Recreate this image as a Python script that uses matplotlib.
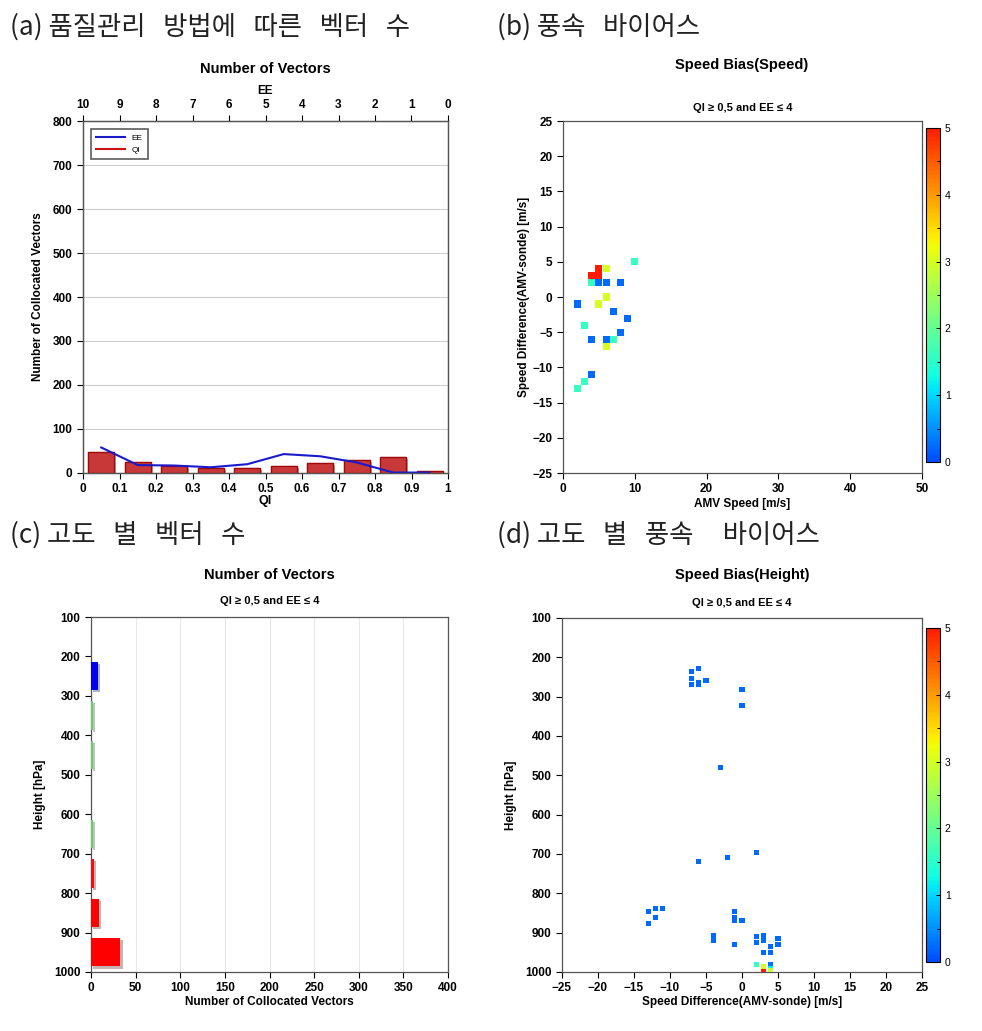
import matplotlib
matplotlib.use("Agg")
import matplotlib.pyplot as plt
import matplotlib.patheffects as pe
from matplotlib.colors import LinearSegmentedColormap, Normalize
from matplotlib.colorbar import ColorbarBase
import numpy as np

plt.rcParams['font.family'] = ['Liberation Sans', 'DejaVu Sans']

# ---- data ----
# (a) number of vectors by QI / EE
qi_centers = [0.05, 0.15, 0.25, 0.35, 0.45, 0.55, 0.65, 0.75, 0.85, 0.95]
qi_counts = [47, 25, 17, 12, 11, 17, 23, 30, 36, 4]
ee_counts = [58, 18, 17, 13, 20, 43, 38, 24, 1, 1]

# (b) speed bias vs AMV speed
b_speed = [10, 5, 6, 4, 5, 4, 5, 6, 8, 6, 2, 5, 7, 9, 3, 8, 4, 6, 7, 6, 4, 3, 2]
b_diff = [5, 4, 4, 3, 3, 2, 2, 2, 2, 0, -1, -1, -2, -3, -4, -5, -6, -6, -6, -7, -11, -12, -13]
b_value = [1.6, 5, 3, 5, 5, 1.6, 0.2, 0.2, 0.2, 3, 0.2, 3, 0.2, 0.2, 1.6, 0.2, 0.2, 0.2,
           1.6, 3, 0.2, 1.6, 1.6]

# (c) number of vectors by height bin
height_mid = [150, 250, 350, 450, 550, 650, 750, 850, 950]
height_counts = [0, 8, 2, 2, 0, 2, 3, 9, 33]
height_colors = ['#0000ee', '#0000ee', '#66cc66', '#66cc66', '#66cc66', '#66cc66',
                 '#ee1111', '#ff0000', '#ff0000']

# (d) speed bias vs height
d_diff = [-6, -7, -7, -5, -7, -6, -6, 0, 0, -3, -6, -2, 2, -13, -12, -11, -12, -13,
          -1, -1, -1, 0, -4, -4, -1, 2, 3, 3, 2, 5, 5, 4, 3, 4, 2, 3, 3, 3, 4, 4, 4]
d_height = [228, 237, 253, 260, 270, 265, 270, 283, 322, 480, 718, 708, 697, 845, 838,
            838, 862, 876, 845, 862, 870, 870, 906, 921, 930, 910, 906, 921, 926, 916,
            930, 936, 951, 951, 982, 985, 992, 998, 982, 990, 997]
d_value = [0.2] * 34 + [1.5, 3, 3, 5, 0.3, 1.2, 2.8]

W, H = 982, 1031
fig = plt.figure(figsize=(W / 100, H / 100), dpi=100)


def rect(l, t, r, b):
    return [l / W, 1 - b / H, (r - l) / W, (b - t) / H]


def fig_text(x, y, s, **kw):
    fig.text(x / W, 1 - y / H, s, **kw)


jet = plt.get_cmap('jet')
cmap = LinearSegmentedColormap.from_list('jet_cut', jet(np.linspace(0.2, 0.88, 256)))
norm = Normalize(0, 5)

tick_kw = dict(labelsize=8.5, colors='black', length=4, width=0.8)
spine_col = '#555555'
kfont = dict(family=['Noto Sans CJK KR', 'DejaVu Sans'], fontsize=19, color='#222222')


def style_axes(ax):
    for s in ax.spines.values():
        s.set_color(spine_col)
        s.set_linewidth(0.9)
    ax.tick_params(axis='both', **tick_kw)
    for lab in ax.get_xticklabels() + ax.get_yticklabels():
        lab.set_fontweight('bold')


def add_cbar(l, t, r, b):
    cax = fig.add_axes(rect(l, t, r, b))
    cb = ColorbarBase(cax, cmap=cmap, norm=norm, ticks=range(6))
    cb.outline.set_linewidth(0.8)
    cax.yaxis.set_minor_locator(plt.MultipleLocator(0.5))
    cax.tick_params(labelsize=7.5, length=3, width=0.7, direction='in')
    cax.tick_params(which='minor', length=2, width=0.7, direction='in')
    return cb


# ---- headings ----
fig_text(10, 27, '(a) 품질관리   방법에   따른   벡터   수', va='center', **kfont)
fig_text(497, 27, '(b) 풍속   바이어스', va='center', **kfont)
fig_text(10, 535, '(c) 고도   별   벡터   수', va='center', **kfont)
fig_text(497, 535, '(d) 고도   별   풍속     바이어스', va='center', **kfont)

# ---- (a) ----
ax = fig.add_axes(rect(83, 121, 448, 473))
bars = ax.bar(qi_centers, qi_counts, width=0.07, color='#c83838', edgecolor='#a00808',
              linewidth=0.9, zorder=3)
for b in bars:
    b.set_path_effects([pe.withSimplePatchShadow(offset=(1.5, -1.5), alpha=0.35), pe.Normal()])
ax.plot(qi_centers, ee_counts, color='#1a1acc', lw=1.5, zorder=4, label='EE')
ax.plot([], [], color='#cc1111', lw=1.5, label='QI')
ax.set_xlim(0, 1)
ax.set_ylim(0, 800)
ax.set_xticks(np.arange(0, 1.01, 0.1))
ax.set_xticklabels(['0', '0.1', '0.2', '0.3', '0.4', '0.5', '0.6', '0.7', '0.8', '0.9', '1'])
ax.set_yticks(range(0, 801, 100))
ax.grid(axis='y', color='#cccccc', lw=0.8, zorder=0)
ax.set_xlabel('QI', fontsize=9, fontweight='bold', labelpad=0)
ax.set_ylabel('Number of Collocated Vectors', fontsize=8.5, fontweight='bold', labelpad=6)
leg = ax.legend(loc='upper left', fontsize=6, frameon=True, fancybox=False,
                handlelength=3.5, borderpad=0.6, bbox_to_anchor=(0.01, 0.99))
leg.get_frame().set_edgecolor('#333333')
leg.get_frame().set_linewidth(1.2)
style_axes(ax)
ax2 = ax.twiny()
ax2.set_xlim(10, 0)
ax2.set_xticks(range(10, -1, -1))
ax2.set_xlabel('EE', fontsize=8.5, fontweight='bold', labelpad=3)
style_axes(ax2)
ax2.set_title('Number of Vectors', fontsize=10.5, fontweight='bold', pad=9)

# ---- (b) ----
ax = fig.add_axes(rect(563, 121, 922, 473))
ax.scatter(b_speed, b_diff, c=b_value, cmap=cmap, norm=norm, marker='s', s=26,
           linewidths=0, zorder=3)
ax.set_xlim(0, 50)
ax.set_ylim(-25, 25)
ax.set_xticks(range(0, 51, 10))
ax.set_yticks(range(-25, 26, 5))
ax.set_xlabel('AMV Speed [m/s]', fontsize=8.5, fontweight='bold', labelpad=2)
ax.set_ylabel('Speed Difference(AMV-sonde) [m/s]', fontsize=8.5, fontweight='bold',
              labelpad=2)
style_axes(ax)
ax.set_title('QI ≥ 0,5 and EE ≤ 4', fontsize=8, fontweight='bold', pad=7)
fig_text(742, 65, 'Speed Bias(Speed)', ha='center', va='center', fontsize=10.5,
         fontweight='bold')
add_cbar(926, 128, 940, 462)

# ---- (c) ----
ax = fig.add_axes(rect(91, 617, 448, 972))
bars = ax.barh(height_mid, height_counts, height=72, color=height_colors, zorder=3)
for b in bars:
    b.set_path_effects([pe.withSimplePatchShadow(offset=(1.5, -1.5), alpha=0.3), pe.Normal()])
ax.set_xlim(0, 400)
ax.set_ylim(1000, 100)
ax.set_xticks(range(0, 401, 50))
ax.set_yticks(range(100, 1001, 100))
ax.grid(axis='x', color='#e8e8e8', lw=0.8, zorder=0)
ax.set_xlabel('Number of Collocated Vectors', fontsize=8.5, fontweight='bold', labelpad=1)
ax.set_ylabel('Height [hPa]', fontsize=8.5, fontweight='bold', labelpad=6)
style_axes(ax)
ax.set_title('QI ≥ 0,5 and EE ≤ 4', fontsize=8, fontweight='bold', pad=9)
fig_text(269, 575, 'Number of Vectors', ha='center', va='center', fontsize=10.5,
         fontweight='bold')

# ---- (d) ----
ax = fig.add_axes(rect(562, 618, 922, 972))
ax.scatter(d_diff, d_height, c=d_value, cmap=cmap, norm=norm, marker='s', s=13,
           linewidths=0, zorder=3)
ax.set_xlim(-25, 25)
ax.set_ylim(1000, 100)
ax.set_xticks(range(-25, 26, 5))
ax.set_yticks(range(100, 1001, 100))
ax.set_xlabel('Speed Difference(AMV-sonde) [m/s]', fontsize=8.5, fontweight='bold',
              labelpad=1)
ax.set_ylabel('Height [hPa]', fontsize=8.5, fontweight='bold', labelpad=6)
style_axes(ax)
ax.set_title('QI ≥ 0,5 and EE ≤ 4', fontsize=8, fontweight='bold', pad=9)
fig_text(742, 575, 'Speed Bias(Height)', ha='center', va='center', fontsize=10.5,
         fontweight='bold')
add_cbar(926, 628, 940, 962)

fig.savefig('out.png', dpi=100, facecolor='white')
